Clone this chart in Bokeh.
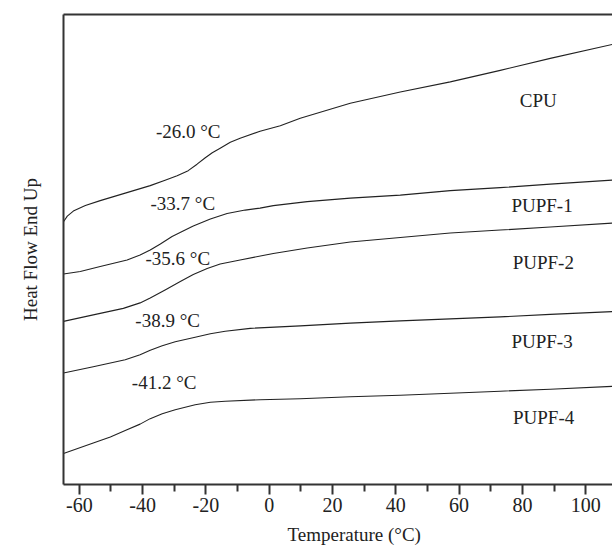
from bokeh.plotting import figure
from bokeh.models import FixedTicker, LinearAxis, Range1d, Label, Title
from bokeh.embed import file_html
from bokeh.resources import INLINE

# ---- data (temperature in °C, heat flow in arbitrary units, endo up) ----
cpu_temp = [-65, -63.8, -61.9, -58.1, -53.4, -45.5, -37.6, -32.9, -29.1, -25.6, -22.8, -20.2, -18.0,
            -15.5, -12.3, -9.2, -2.9, 3.5, 9.8, 25.6, 41.4, 57.2, 73.0, 88.8, 108.4]
cpu_hf = [26.33, 26.9, 27.4, 27.95, 28.45, 29.2, 29.95, 30.5, 30.95, 31.45, 32.1, 32.75, 33.25,
          33.7, 34.3, 34.7, 35.4, 35.95, 36.7, 38.2, 39.33, 40.35, 41.5, 42.7, 44.1]

pupf1_temp = [-65, -59.7, -53.4, -44.9, -40.8, -37.6, -34.4, -30.7, -27.2, -24.0, -18.6, -13.3,
              -7.6, -2.9, 1.3, 12.0, 25.6, 41.4, 57.2, 73.0, 88.8, 108.4]
pupf1_hf = [21.1, 21.35, 21.85, 22.5, 23.0, 23.5, 24.1, 24.85, 25.4, 25.9, 26.6, 27.15,
            27.5, 27.7, 27.95, 28.35, 28.7, 29.0, 29.45, 29.75, 30.1, 30.5]

pupf2_temp = [-65, -55.6, -46.1, -40.8, -37.6, -32.9, -28.1, -24.0, -19.6, -15.5, -9.2, 1.3, 12.0,
              25.6, 41.4, 57.2, 73.0, 88.8, 108.4]
pupf2_hf = [16.35, 17.0, 17.65, 18.2, 18.7, 19.5, 20.35, 21.05, 21.65, 22.1, 22.5, 23.15, 23.7,
            24.3, 24.75, 25.2, 25.5, 25.8, 26.2]

pupf3_temp = [-65, -55.6, -45.5, -40.8, -37.6, -33.8, -29.7, -23.4, -18.6, -13.9, -6.0, 9.8,
              25.6, 41.4, 57.2, 73.0, 88.8, 108.4]
pupf3_hf = [11.17, 11.8, 12.5, 13.0, 13.45, 13.9, 14.3, 14.75, 15.1, 15.35, 15.65, 15.9,
            16.17, 16.4, 16.6, 16.8, 17.05, 17.33]

pupf4_temp = [-65, -55.6, -50.2, -45.5, -40.8, -37.6, -33.8, -29.7, -23.4, -18.6, -13.9, -2.9,
              9.8, 25.6, 41.4, 57.2, 73.0, 88.8, 108.4]
pupf4_hf = [3.1, 4.15, 4.75, 5.4, 6.05, 6.6, 7.1, 7.5, 8.0, 8.25, 8.35, 8.5,
            8.6, 8.8, 8.95, 9.15, 9.35, 9.55, 9.83]

sample_names = ["CPU", "PUPF-1", "PUPF-2", "PUPF-3", "PUPF-4"]
tg_labels = ["-26.0 °C", "-33.7 °C", "-35.6 °C", "-38.9 °C", "-41.2 °C"]

x_ticks = [-60, -40, -20, 0, 20, 40, 60, 80, 100]
x_tick_labels = ["-60", "-40", "-20", "0", "20", "40", "60", "80", "100"]
x_minor_ticks = [-50, -30, -10, 10, 30, 50, 70, 90]

x_title = "Temperature (°C)"
y_title = "Heat Flow End Up"

# ---- layout / style ----
FONT = "Liberation Serif"
INK = "#222222"
FRAME = "#333333"

p = figure(width=612, height=551,
           x_range=Range1d(-65, 108.46), y_range=Range1d(0, 47.1),
           output_backend="svg", toolbar_location=None,
           min_border_left=63, min_border_top=14, min_border_right=0, min_border_bottom=66)
p.outline_line_color = None
p.xgrid.visible = False
p.ygrid.visible = False
p.background_fill_color = "white"
p.border_fill_color = "white"

series = [(cpu_temp, cpu_hf), (pupf1_temp, pupf1_hf), (pupf2_temp, pupf2_hf),
          (pupf3_temp, pupf3_hf), (pupf4_temp, pupf4_hf)]
for t, hf in series:
    p.line(t, hf, line_color=INK, line_width=1.1, line_join="round")

# x axis
xa = p.xaxis[0]
xa.ticker = FixedTicker(ticks=x_ticks, minor_ticks=x_minor_ticks)
xa.major_label_overrides = {t: s for t, s in zip(x_ticks, x_tick_labels)}
xa.major_tick_out = 10
xa.major_tick_in = 0
xa.minor_tick_out = 7
xa.minor_tick_in = 0
xa.major_tick_line_width = 2
xa.minor_tick_line_width = 2
xa.major_tick_line_color = FRAME
xa.minor_tick_line_color = FRAME
xa.axis_line_width = 2
xa.axis_line_color = FRAME
xa.major_label_text_font = FONT
xa.major_label_text_font_size = "20px"
xa.major_label_text_color = INK
xa.major_label_standoff = 3

# y axis
ya = p.yaxis[0]
ya.ticker = FixedTicker(ticks=[])
ya.major_tick_out = 0
ya.major_tick_in = 0
ya.minor_tick_out = 0
ya.minor_tick_in = 0
ya.major_label_standoff = 0
ya.axis_line_width = 2
ya.axis_line_color = FRAME
ya.axis_label = y_title
ya.axis_label_text_font = FONT
ya.axis_label_text_font_size = "19px"
ya.axis_label_text_font_style = "normal"
ya.axis_label_text_color = INK
ya.axis_label_standoff = 23

# top border line
top = LinearAxis(ticker=FixedTicker(ticks=[]), major_tick_out=0, major_tick_in=0,
                 minor_tick_out=0, minor_tick_in=0, major_label_standoff=0,
                 axis_line_width=2, axis_line_color=FRAME)
p.add_layout(top, "above")

# x axis title (centred on the full original frame, which extends past the crop)
p.add_layout(Title(text=x_title, align="left", offset=224, standoff=14,
                   text_font=FONT, text_font_size="19px", text_font_style="normal",
                   text_color=INK), "below")

# curve annotations
name_pos = [(85.0, 38.45), (86.2, 27.95), (86.6, 22.2), (86.2, 14.35), (86.7, 6.67)]
tg_pos = [(-25.6, 35.4), (-27.3, 28.2), (-28.9, 22.6), (-32.1, 16.4), (-33.2, 10.25)]
for txt, (x, y) in zip(sample_names, name_pos):
    p.add_layout(Label(x=x, y=y, text=txt, text_font=FONT, text_font_size="19px",
                       text_color=INK, text_align="center", text_baseline="middle"))
for txt, (x, y) in zip(tg_labels, tg_pos):
    p.add_layout(Label(x=x, y=y, text=txt, text_font=FONT, text_font_size="19px",
                       text_color=INK, text_align="center", text_baseline="middle"))

open("out.html", "w").write(file_html(p, INLINE))
